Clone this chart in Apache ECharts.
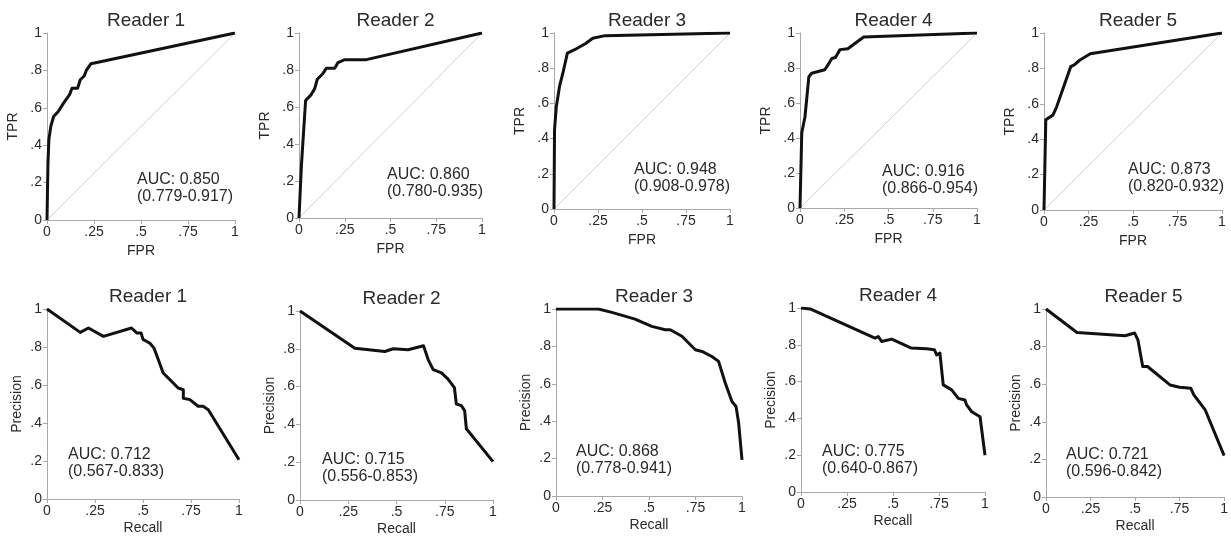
<!DOCTYPE html>
<html><head><meta charset="utf-8">
<script src="https://cdn.jsdelivr.net/npm/echarts@6/dist/echarts.min.js"></script>
<style>html,body{margin:0;padding:0;background:#fff}#c{width:1231px;height:537px}</style>
</head><body><div id="c"></div><script>
// ---------- data ----------
const readers = ['Reader 1', 'Reader 2', 'Reader 3', 'Reader 4', 'Reader 5'];
const xTicks = [0, 0.25, 0.5, 0.75, 1];
const yTicks = [0, 0.2, 0.4, 0.6, 0.8, 1];

const roc1 = [[0,0],[0.005,0.3],[0.01,0.43],[0.02,0.5],[0.035,0.553],[0.06,0.58],[0.088,0.625],[0.12,0.67],[0.133,0.705],[0.163,0.705],[0.177,0.75],[0.198,0.77],[0.209,0.8],[0.234,0.836],[1,1]];
const roc2 = [[0,0],[0.013,0.28],[0.036,0.635],[0.067,0.667],[0.086,0.7],[0.1,0.75],[0.13,0.78],[0.15,0.81],[0.195,0.81],[0.213,0.84],[0.25,0.856],[0.368,0.856],[1,1]];
const roc3 = [[0,0],[0.003,0.45],[0.013,0.58],[0.032,0.7],[0.05,0.77],[0.076,0.886],[0.117,0.905],[0.18,0.94],[0.22,0.97],[0.29,0.985],[1,1]];
const roc4 = [[0,0],[0.01,0.43],[0.028,0.52],[0.05,0.75],[0.066,0.77],[0.14,0.79],[0.157,0.816],[0.18,0.854],[0.2,0.86],[0.226,0.905],[0.27,0.91],[0.31,0.94],[0.36,0.977],[1,1]];
const roc5 = [[0,0],[0.01,0.51],[0.05,0.536],[0.07,0.58],[0.15,0.81],[0.17,0.82],[0.2,0.846],[0.26,0.883],[1,1]];

const pr1 = [[0,1],[0.173,0.877],[0.216,0.9],[0.294,0.856],[0.44,0.9],[0.467,0.874],[0.49,0.874],[0.5,0.84],[0.536,0.82],[0.557,0.795],[0.58,0.733],[0.605,0.663],[0.64,0.628],[0.683,0.584],[0.71,0.575],[0.71,0.53],[0.744,0.523],[0.787,0.488],[0.813,0.488],[0.84,0.47],[1,0.207]];
const pr2 = [[0,1],[0.284,0.803],[0.44,0.786],[0.483,0.8],[0.56,0.795],[0.64,0.816],[0.664,0.743],[0.69,0.69],[0.733,0.673],[0.767,0.64],[0.8,0.595],[0.81,0.508],[0.836,0.499],[0.853,0.473],[0.862,0.377],[1,0.203]];
const pr3 = [[0,1],[0.228,1],[0.3,0.982],[0.425,0.946],[0.515,0.907],[0.587,0.889],[0.614,0.889],[0.677,0.854],[0.749,0.782],[0.785,0.773],[0.838,0.746],[0.874,0.72],[0.91,0.604],[0.946,0.505],[0.968,0.479],[0.982,0.39],[1,0.193]];
const pr4 = [[0,1],[0.05,0.995],[0.402,0.836],[0.42,0.845],[0.438,0.818],[0.493,0.831],[0.6,0.782],[0.683,0.778],[0.725,0.773],[0.737,0.745],[0.755,0.755],[0.773,0.582],[0.819,0.555],[0.855,0.509],[0.891,0.5],[0.9,0.473],[0.928,0.436],[0.973,0.409],[1,0.2]];
const pr5 = [[0,1],[0.174,0.875],[0.444,0.858],[0.498,0.872],[0.516,0.836],[0.543,0.694],[0.57,0.694],[0.696,0.596],[0.75,0.584],[0.813,0.578],[0.83,0.543],[0.894,0.463],[1,0.22]];

const rocAuc = ['0.850', '0.860', '0.948', '0.916', '0.873'];
const rocCI  = ['0.779-0.917', '0.780-0.935', '0.908-0.978', '0.866-0.954', '0.820-0.932'];
const prAuc  = ['0.712', '0.715', '0.868', '0.775', '0.721'];
const prCI   = ['0.567-0.833', '0.556-0.853', '0.778-0.941', '0.640-0.867', '0.596-0.842'];

const rocCurves = [roc1, roc2, roc3, roc4, roc5];
const prCurves = [pr1, pr2, pr3, pr4, pr5];
const diagonal = [[0,0],[1,1]];

// ---------- layout ----------
const rocGrids = [
  {left: 47, top: 33, width: 188, height: 187},
  {left: 299, top: 33, width: 183, height: 185},
  {left: 554, top: 33, width: 176, height: 176},
  {left: 800, top: 33, width: 177, height: 175},
  {left: 1044, top: 33, width: 178, height: 177}
];
const prGrids = [
  {left: 47, top: 309, width: 192, height: 190},
  {left: 300, top: 311, width: 193, height: 191},
  {left: 556, top: 309, width: 186, height: 187},
  {left: 801, top: 308, width: 184, height: 184},
  {left: 1046, top: 309, width: 185, height: 188}
];
const rocText = [[137,171],[387,166],[634,161],[882,163],[1128,161]];
const prText = [[68,446],[322,451],[576,443],[822,443],[1066,446]];

const FONT = 'Liberation Sans, Arial, sans-serif';
const TXT = '#2a2a2a';
const AX = '#a8a8a8';
function fmt(v){ v = Math.round(v*100)/100; if (v===0) return '0'; if (v===1) return '1'; return String(v).replace(/^0/, ''); }

const grid = [], xAxis = [], yAxis = [], series = [], title = [], graphic = [];
function addPanel(g, name, xName, xGap, yName, yGap, curve, isRoc, auc, ci, txt){
  const i = grid.length;
  grid.push(Object.assign({containLabel: false}, g));
  const axisCommon = {
    type: 'value', min: 0, max: 1, gridIndex: i,
    axisLine: {show: true, lineStyle: {color: AX, width: 1}},
    axisTick: {show: true, length: 4, lineStyle: {color: AX}},
    splitLine: {show: false},
    axisLabel: {fontFamily: FONT, fontSize: 14, color: TXT, formatter: fmt, margin: 5},
    nameLocation: 'middle',
    nameTextStyle: {fontFamily: FONT, fontSize: 14, color: TXT}
  };
  xAxis.push(Object.assign({}, axisCommon, {interval: 0.25, name: xName, nameGap: xGap}));
  yAxis.push(Object.assign({}, axisCommon, {interval: 0.2, name: yName, nameGap: yGap}));
  if (isRoc) {
    series.push({type: 'line', xAxisIndex: i, yAxisIndex: i, data: diagonal, symbol: 'none', silent: true,
      lineStyle: {color: '#d0d0d0', width: 1}, z: 1});
  }
  series.push({type: 'line', xAxisIndex: i, yAxisIndex: i, data: curve, symbol: 'none',
    lineStyle: {color: '#111', width: 3, join: 'round'}, z: 3});
  title.push({text: name, left: g.left + g.width/2, top: g.top - 27, textAlign: 'center',
    textStyle: {fontFamily: FONT, fontSize: 19, fontWeight: 'normal', color: TXT}});
  graphic.push({type: 'text', left: txt[0], top: txt[1],
    style: {text: 'AUC: ' + auc + '\n(' + ci + ')', font: '16px ' + FONT, fill: TXT, lineHeight: 17}});
}
for (let k = 0; k < 5; k++) {
  addPanel(rocGrids[k], readers[k], 'FPR', 24, 'TPR', 27, rocCurves[k], true, rocAuc[k], rocCI[k], rocText[k]);
}
for (let k = 0; k < 5; k++) {
  addPanel(prGrids[k], readers[k], 'Recall', 22, 'Precision', 23, prCurves[k], false, prAuc[k], prCI[k], prText[k]);
}

const chart = echarts.init(document.getElementById('c'), null, {renderer: 'canvas'});
chart.setOption({animation: false, backgroundColor: '#fff', grid, xAxis, yAxis, series, title, graphic});
</script></body></html>
